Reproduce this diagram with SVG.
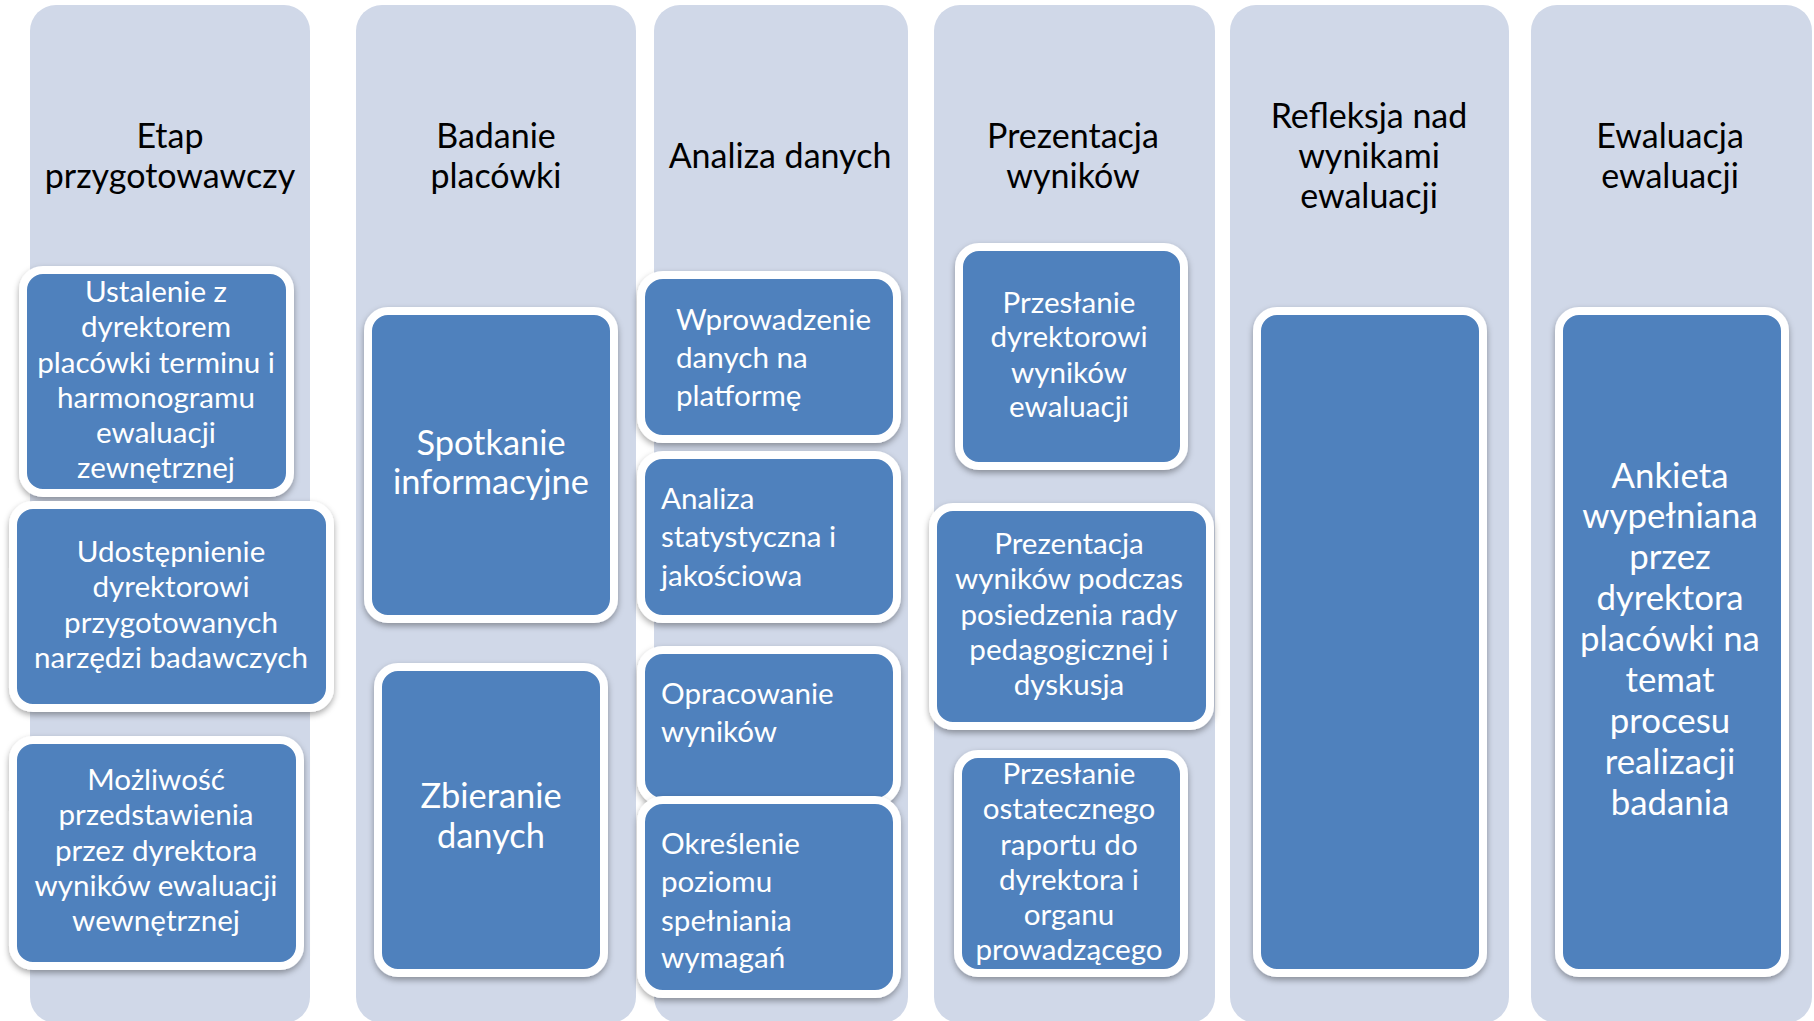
<svg xmlns="http://www.w3.org/2000/svg" width="1814" height="1021" viewBox="0 0 1814 1021">
<defs>
<filter id="sh" x="-10%" y="-10%" width="120%" height="125%">
<feDropShadow dx="0" dy="3" stdDeviation="3" flood-color="#000" flood-opacity="0.35"/>
</filter>
<style>
.col{fill:#D0D8E8;}
.box{fill:#4F81BD;stroke:#FFFFFF;stroke-width:8;filter:url(#sh);}
.hd{font-family:Lato,"Liberation Sans",sans-serif;font-size:34px;fill:#000;text-anchor:middle;}
.bt{font-family:Lato,"Liberation Sans",sans-serif;font-size:29.6px;fill:#FFFFFF;text-anchor:middle;}
.bl{font-family:Lato,"Liberation Sans",sans-serif;font-size:29.6px;fill:#FFFFFF;text-anchor:start;}
.big{font-size:34.4px;}
.bigger{font-size:34.8px;}
</style>
</defs>
<g id="columns">
<g id="col1"><rect class="col" x="30" y="5" width="280" height="1018" rx="26"/><text class="hd" x="170" y="148">Etap</text><text class="hd" x="170" y="188">przygotowawczy</text></g>
<g id="col2"><rect class="col" x="356" y="5" width="280" height="1018" rx="26"/><text class="hd" x="496" y="148">Badanie</text><text class="hd" x="496" y="188">placówki</text></g>
<g id="col3"><rect class="col" x="654" y="5" width="254" height="1018" rx="26"/><text class="hd" x="780" y="168">Analiza danych</text></g>
<g id="col4"><rect class="col" x="934" y="5" width="281" height="1018" rx="26"/><text class="hd" x="1073" y="148">Prezentacja</text><text class="hd" x="1073" y="188">wyników</text></g>
<g id="col5"><rect class="col" x="1230" y="5" width="279" height="1018" rx="26"/><text class="hd" x="1369" y="128">Refleksja nad</text><text class="hd" x="1369" y="168">wynikami</text><text class="hd" x="1369" y="208">ewaluacji</text></g>
<g id="col6"><rect class="col" x="1531" y="5" width="281" height="1018" rx="26"/><text class="hd" x="1670" y="148">Ewaluacja</text><text class="hd" x="1670" y="188">ewaluacji</text></g>
</g>
<g id="n1"><rect class="box" x="23" y="270" width="267" height="223" rx="20"/>
<text class="bt" x="156" y="302">Ustalenie z</text><text class="bt" x="156" y="337">dyrektorem</text><text class="bt" x="156" y="373">placówki terminu i</text><text class="bt" x="156" y="408">harmonogramu</text><text class="bt" x="156" y="443">ewaluacji</text><text class="bt" x="156" y="478">zewnętrznej</text></g>
<g id="n2"><rect class="box" x="13" y="505" width="317" height="203" rx="20"/>
<text class="bt" x="171" y="562">Udostępnienie</text><text class="bt" x="171" y="597">dyrektorowi</text><text class="bt" x="171" y="633">przygotowanych</text><text class="bt" x="171" y="668">narzędzi badawczych</text></g>
<g id="n3"><rect class="box" x="13" y="740" width="287" height="226" rx="20"/>
<text class="bt" x="156" y="790">Możliwość</text><text class="bt" x="156" y="825">przedstawienia</text><text class="bt" x="156" y="861">przez dyrektora</text><text class="bt" x="156" y="896">wyników ewaluacji</text><text class="bt" x="156" y="931">wewnętrznej</text></g>
<g id="n4"><rect class="box" x="368" y="311" width="246" height="308" rx="20"/>
<text class="bt big" x="491" y="455">Spotkanie</text><text class="bt big" x="491" y="494">informacyjne</text></g>
<g id="n5"><rect class="box" x="378" y="667" width="226" height="306" rx="20"/>
<text class="bt big" x="491" y="808">Zbieranie</text><text class="bt big" x="491" y="848">danych</text></g>
<g id="n6"><rect class="box" x="641" y="275" width="256" height="164" rx="22"/>
<text class="bl" x="676" y="330">Wprowadzenie</text><text class="bl" x="676" y="368">danych na</text><text class="bl" x="676" y="406">platformę</text></g>
<g id="n7"><rect class="box" x="641" y="455" width="256" height="164" rx="22"/>
<text class="bl" x="661" y="509">Analiza</text><text class="bl" x="661" y="547">statystyczna i</text><text class="bl" x="661" y="586">jakościowa</text></g>
<g id="n8"><rect class="box" x="641" y="650" width="256" height="152" rx="22"/>
<text class="bl" x="661" y="704">Opracowanie</text><text class="bl" x="661" y="742">wyników</text></g>
<g id="n9"><rect class="box" x="641" y="800" width="256" height="194" rx="22"/>
<text class="bl" x="661" y="854">Określenie</text><text class="bl" x="661" y="892">poziomu</text><text class="bl" x="661" y="931">spełniania</text><text class="bl" x="661" y="968">wymagań</text></g>
<g id="n10"><rect class="box" x="959" y="247" width="225" height="219" rx="20"/>
<text class="bt" x="1069" y="313">Przesłanie</text><text class="bt" x="1069" y="347">dyrektorowi</text><text class="bt" x="1069" y="383">wyników</text><text class="bt" x="1069" y="417">ewaluacji</text></g>
<g id="n11"><rect class="box" x="933" y="507" width="277" height="219" rx="20"/>
<text class="bt" x="1069" y="554">Prezentacja</text><text class="bt" x="1069" y="589">wyników podczas</text><text class="bt" x="1069" y="625">posiedzenia rady</text><text class="bt" x="1069" y="660">pedagogicznej i</text><text class="bt" x="1069" y="695">dyskusja</text></g>
<g id="n12"><rect class="box" x="958" y="754" width="226" height="219" rx="20"/>
<text class="bt" x="1069" y="784">Przesłanie</text><text class="bt" x="1069" y="819">ostatecznego</text><text class="bt" x="1069" y="855">raportu do</text><text class="bt" x="1069" y="890">dyrektora i</text><text class="bt" x="1069" y="925">organu</text><text class="bt" x="1069" y="960">prowadzącego</text></g>
<g id="n13"><rect class="box" x="1257" y="311" width="226" height="662" rx="20"/></g>
<g id="n14"><rect class="box" x="1559" y="311" width="226" height="662" rx="20"/>
<text class="bt bigger" x="1670" y="488">Ankieta</text><text class="bt bigger" x="1670" y="528">wypełniana</text><text class="bt bigger" x="1670" y="569">przez</text><text class="bt bigger" x="1670" y="610">dyrektora</text><text class="bt bigger" x="1670" y="651">placówki na</text><text class="bt bigger" x="1670" y="692">temat</text><text class="bt bigger" x="1670" y="733">procesu</text><text class="bt bigger" x="1670" y="774">realizacji</text><text class="bt bigger" x="1670" y="815">badania</text></g>
</svg>
